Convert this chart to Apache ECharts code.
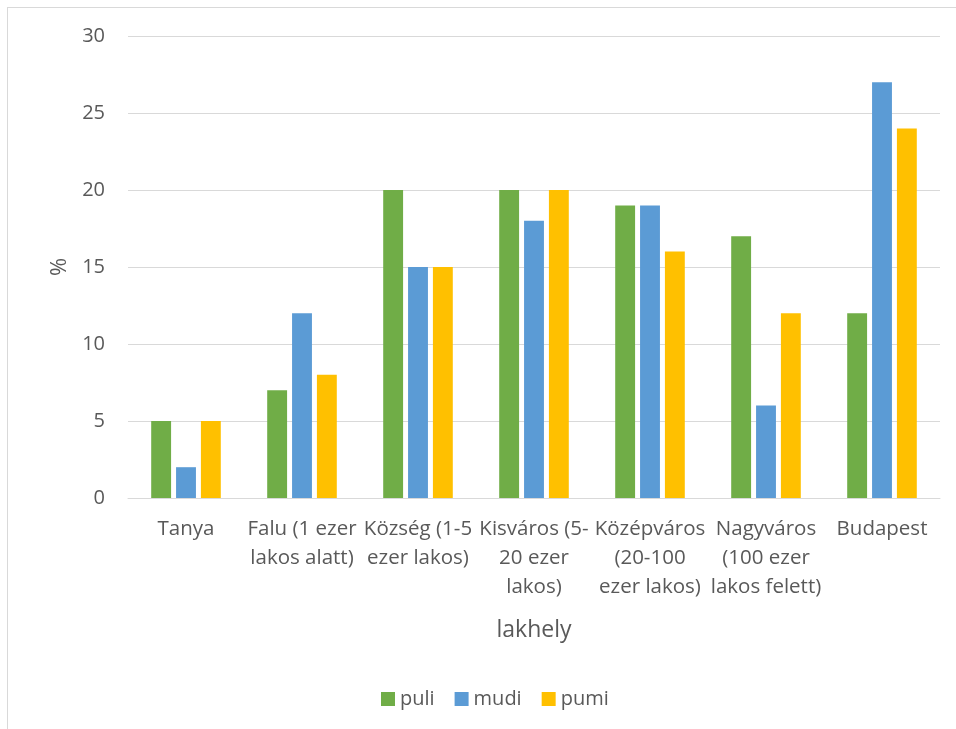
<!DOCTYPE html>
<html><head><meta charset="utf-8">
<script src="https://cdn.jsdelivr.net/npm/echarts@6/dist/echarts.min.js"></script>
<style>
html,body{margin:0;padding:0;background:#fff;}
#frame{position:absolute;left:7px;top:7px;width:960px;height:740px;border:1px solid #d9d9d9;box-sizing:border-box;}
#c{position:absolute;left:0;top:0;width:956px;height:729px;}
</style></head>
<body>
<div id="frame"></div>
<div id="c"></div>
<script>
const categories = ["Tanya","Falu (1 ezer\nlakos alatt)","Község (1-5\nezer lakos)","Kisváros (5-\n20 ezer\nlakos)","Középváros\n(20-100\nezer lakos)","Nagyváros\n(100 ezer\nlakos felett)","Budapest"];
const puli = [5, 7, 20, 20, 19, 17, 12];
const mudi = [2, 12, 15, 18, 19, 6, 27];
const pumi = [5, 8, 15, 20, 16, 12, 24];
const seriesNames = ["puli","mudi","pumi"];
const colors = ["#70AD47","#5B9BD5","#FFC000"];
const font = "'Open Sans', 'Liberation Sans', sans-serif";
const txt = "#595959";

const chart = echarts.init(document.getElementById('c'), null, {renderer:'canvas'});
const data = [puli, mudi, pumi];
chart.setOption({
  animation:false,
  textStyle:{fontFamily:font},
  grid:{left:128, right:16, top:36, bottom:231, containLabel:false},
  legend:{
    top:684, left:376, itemWidth:14, itemHeight:14, itemGap:20,
    icon:'rect',
    textStyle:{color:txt, fontSize:20, fontFamily:font},
    data:seriesNames
  },
  xAxis:{
    type:'category', data:categories,
    axisLine:{lineStyle:{color:'#d9d9d9', width:1}},
    axisTick:{show:false},
    axisLabel:{color:txt, fontSize:20.5, lineHeight:29, margin:17, interval:0, fontFamily:font},
    name:'lakhely', nameLocation:'middle', nameGap:121,
    nameTextStyle:{color:txt, fontSize:23, fontFamily:font}
  },
  yAxis:{
    type:'value', min:0, max:30, interval:5,
    axisLine:{show:false}, axisTick:{show:false},
    splitLine:{lineStyle:{color:'#d9d9d9', width:1}},
    axisLabel:{color:txt, fontSize:20, margin:23, fontFamily:font},
    name:'%', nameLocation:'middle', nameGap:57, nameRotate:90,
    nameTextStyle:{color:txt, fontSize:22, fontFamily:font}
  },
  series: seriesNames.map((n,i)=>({
    name:n, type:'bar', data:data[i],
    itemStyle:{color:colors[i]},
    barGap:'25%', barCategoryGap:'40%'
  }))
});
</script>
</body></html>
